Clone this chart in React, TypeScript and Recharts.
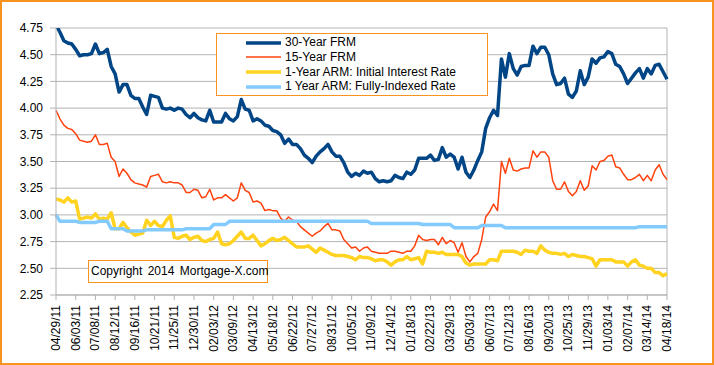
import React from 'react';
import { LineChart, Line, XAxis, YAxis, CartesianGrid, Legend, ReferenceLine } from 'recharts';

const weeks2011 = ['04/29/11','05/06/11','05/13/11','05/20/11','05/27/11','06/03/11','06/10/11','06/17/11','06/24/11','07/01/11','07/08/11','07/15/11','07/22/11','07/29/11','08/05/11','08/12/11','08/19/11','08/26/11','09/02/11','09/09/11','09/16/11','09/23/11','09/30/11','10/07/11','10/14/11','10/21/11','10/28/11','11/04/11','11/11/11','11/18/11','11/25/11','12/02/11','12/09/11','12/16/11','12/23/11','12/30/11'];
const weeks2012 = ['01/06/12','01/13/12','01/20/12','01/27/12','02/03/12','02/10/12','02/17/12','02/24/12','03/02/12','03/09/12','03/16/12','03/23/12','03/30/12','04/06/12','04/13/12','04/20/12','04/27/12','05/04/12','05/11/12','05/18/12','05/25/12','06/01/12','06/08/12','06/15/12','06/22/12','06/29/12','07/06/12','07/13/12','07/20/12','07/27/12','08/03/12','08/10/12','08/17/12','08/24/12','08/31/12','09/07/12','09/14/12','09/21/12','09/28/12','10/05/12','10/12/12','10/19/12','10/26/12','11/02/12','11/09/12','11/16/12','11/23/12','11/30/12','12/07/12','12/14/12','12/21/12','12/28/12'];
const weeks2013 = ['01/04/13','01/11/13','01/18/13','01/25/13','02/01/13','02/08/13','02/15/13','02/22/13','03/01/13','03/08/13','03/15/13','03/22/13','03/29/13','04/05/13','04/12/13','04/19/13','04/26/13','05/03/13','05/10/13','05/17/13','05/24/13','05/31/13','06/07/13','06/14/13','06/21/13','06/28/13','07/05/13','07/12/13','07/19/13','07/26/13','08/02/13','08/09/13','08/16/13','08/23/13','08/30/13','09/06/13','09/13/13','09/20/13','09/27/13','10/04/13','10/11/13','10/18/13','10/25/13','11/01/13','11/08/13','11/15/13','11/22/13','11/29/13','12/06/13','12/13/13','12/20/13','12/27/13'];
const weeks2014 = ['01/03/14','01/10/14','01/17/14','01/24/14','01/31/14','02/07/14','02/14/14','02/21/14','02/28/14','03/07/14','03/14/14','03/21/14','03/28/14','04/04/14','04/11/14','04/18/14'];

const frm30 = [
  4.78,4.71,4.63,4.61,4.60,4.55,4.49,4.50,4.50,4.51,4.60,4.51,4.52,4.55,4.39,4.32,4.15,4.22,4.22,4.12,4.09,4.09,4.01,3.94,4.12,4.11,4.10,4.00,3.99,4.00,3.98,4.00,3.99,3.94,3.91,3.95,
  3.91,3.89,3.88,3.98,3.87,3.87,3.87,3.95,3.90,3.88,3.92,4.08,3.99,3.98,3.88,3.90,3.88,3.84,3.83,3.79,3.78,3.75,3.67,3.71,3.66,3.66,3.62,3.56,3.53,3.49,3.55,3.59,3.62,3.66,3.59,3.55,3.55,3.49,3.40,3.36,3.39,3.37,3.41,3.39,3.40,3.34,3.31,3.32,3.31,3.32,3.37,3.35,
  3.34,3.40,3.38,3.42,3.53,3.53,3.53,3.56,3.51,3.52,3.63,3.54,3.57,3.54,3.43,3.54,3.40,3.35,3.42,3.51,3.59,3.81,3.91,3.98,3.93,4.46,4.29,4.51,4.37,4.31,4.39,4.40,4.40,4.58,4.51,4.57,4.57,4.50,4.32,4.22,4.23,4.28,4.13,4.10,4.16,4.35,4.22,4.29,4.46,4.42,4.47,4.48,
  4.53,4.51,4.41,4.39,4.32,4.23,4.28,4.33,4.37,4.28,4.37,4.32,4.40,4.41,4.34,4.27,
];
const frm15 = [
  3.98,3.90,3.84,3.81,3.80,3.76,3.70,3.69,3.68,3.69,3.75,3.66,3.66,3.67,3.54,3.50,3.36,3.43,3.39,3.33,3.30,3.29,3.28,3.26,3.36,3.37,3.38,3.31,3.30,3.31,3.30,3.30,3.28,3.21,3.21,3.24,
  3.23,3.16,3.17,3.24,3.14,3.16,3.16,3.19,3.16,3.13,3.16,3.30,3.23,3.21,3.12,3.13,3.11,3.04,3.05,3.04,3.04,2.97,2.94,2.98,2.95,2.94,2.89,2.86,2.83,2.80,2.83,2.85,2.89,2.92,2.86,2.86,2.85,2.77,2.73,2.69,2.70,2.66,2.69,2.70,2.66,2.65,2.64,2.64,2.64,2.66,2.66,2.65,
  2.64,2.66,2.66,2.71,2.81,2.77,2.76,2.77,2.77,2.72,2.79,2.73,2.76,2.74,2.65,2.74,2.61,2.56,2.61,2.64,2.77,2.98,3.03,3.10,3.04,3.50,3.39,3.53,3.42,3.41,3.43,3.44,3.44,3.60,3.54,3.59,3.59,3.54,3.32,3.24,3.24,3.31,3.22,3.18,3.22,3.32,3.23,3.27,3.46,3.42,3.50,3.51,
  3.55,3.56,3.45,3.44,3.38,3.33,3.33,3.35,3.38,3.32,3.37,3.32,3.42,3.47,3.38,3.33,
];
const armInitial = [
  3.15,3.14,3.12,3.16,3.12,3.13,2.96,2.97,2.98,2.97,3.01,2.96,2.97,2.96,3.02,2.87,2.87,2.93,2.88,2.84,2.81,2.82,2.83,2.95,2.90,2.94,2.90,2.89,2.95,2.99,2.79,2.78,2.80,2.81,2.77,2.79,
  2.80,2.76,2.75,2.77,2.78,2.84,2.73,2.72,2.73,2.76,2.80,2.84,2.78,2.78,2.81,2.76,2.71,2.73,2.76,2.78,2.76,2.77,2.79,2.76,2.73,2.70,2.70,2.70,2.71,2.68,2.65,2.69,2.67,2.65,2.63,2.62,2.62,2.62,2.61,2.60,2.58,2.61,2.60,2.60,2.59,2.57,2.58,2.58,2.56,2.53,2.56,2.58,
  2.58,2.61,2.58,2.59,2.60,2.54,2.66,2.65,2.65,2.64,2.65,2.63,2.63,2.63,2.63,2.61,2.55,2.53,2.54,2.54,2.54,2.54,2.58,2.58,2.57,2.66,2.66,2.66,2.66,2.65,2.63,2.67,2.66,2.66,2.64,2.71,2.67,2.65,2.64,2.64,2.63,2.64,2.61,2.63,2.62,2.61,2.61,2.60,2.59,2.52,2.58,2.58,
  2.58,2.58,2.56,2.56,2.56,2.52,2.56,2.58,2.53,2.52,2.50,2.50,2.46,2.46,2.43,2.45,
];
const armIndexed = [
  3.00,2.94,2.94,2.94,2.94,2.94,2.93,2.93,2.93,2.93,2.93,2.94,2.94,2.94,2.87,2.87,2.87,2.87,2.85,2.85,2.85,2.85,2.85,2.86,2.86,2.86,2.86,2.86,2.86,2.86,2.86,2.86,2.86,2.87,2.87,2.87,
  2.87,2.87,2.87,2.87,2.91,2.91,2.91,2.91,2.94,2.94,2.94,2.94,2.94,2.94,2.94,2.94,2.94,2.94,2.94,2.94,2.94,2.94,2.94,2.94,2.94,2.94,2.94,2.94,2.94,2.94,2.94,2.94,2.94,2.94,2.94,2.94,2.94,2.94,2.94,2.94,2.94,2.94,2.94,2.94,2.92,2.92,2.92,2.92,2.92,2.92,2.92,2.92,
  2.92,2.92,2.92,2.92,2.92,2.91,2.91,2.91,2.91,2.91,2.91,2.91,2.91,2.88,2.88,2.88,2.88,2.88,2.88,2.88,2.90,2.90,2.90,2.90,2.90,2.90,2.88,2.88,2.88,2.88,2.88,2.88,2.88,2.88,2.88,2.88,2.88,2.88,2.88,2.88,2.88,2.88,2.88,2.88,2.88,2.88,2.88,2.88,2.88,2.88,2.88,2.88,
  2.88,2.88,2.88,2.88,2.88,2.88,2.88,2.88,2.89,2.89,2.89,2.89,2.89,2.89,2.89,2.89,
];

const seriesNames = ['30-Year FRM', '15-Year FRM', '1-Year ARM: Initial Interest Rate', '1 Year ARM: Fully-Indexed Rate'];
const seriesKeys = ['frm30', 'frm15', 'armInitial', 'armIndexed'];
const seriesColors = ['#004586', '#ff420e', '#ffd320', '#83caff'];
const seriesWidths = [3.5, 1.5, 3.5, 3.5];
const yTicks = [2.25, 2.5, 2.75, 3.0, 3.25, 3.5, 3.75, 4.0, 4.25, 4.5, 4.75];
const copyrightText = 'Copyright 2014 Mortgage-X.com';

const weeks = [...weeks2011, ...weeks2012, ...weeks2013, ...weeks2014];
const data = weeks.map((date, i) => ({
  date,
  frm30: frm30[i],
  frm15: frm15[i],
  armInitial: armInitial[i],
  armIndexed: armIndexed[i],
}));

const FONT = '"Liberation Sans", Arial, Helvetica, sans-serif';
const ORANGE = '#F7931E';
const GRID = '#b3b3b3';

const XTick = (props: any) => {
  const { x, y, payload } = props;
  return (
    <text
      x={x}
      y={y}
      transform={`rotate(-90, ${x}, ${y})`}
      textAnchor="end"
      dominantBaseline="central"
      fontSize={12}
      fontFamily={FONT}
      fill="#000"
    >
      {payload.value}
    </text>
  );
};

const LegendBox = () => (
  <div
    style={{
      width: 272,
      height: 63,
      boxSizing: 'border-box',
      border: `1px solid ${ORANGE}`,
      background: '#fff',
      position: 'relative',
      fontFamily: FONT,
    }}
  >
    {seriesNames.map((name, i) => (
      <div
        key={name}
        style={{
          position: 'absolute',
          left: 29,
          top: 1 + i * 14.8,
          height: 15,
          display: 'flex',
          alignItems: 'center',
          whiteSpace: 'nowrap',
        }}
      >
        <svg width={36} height={6} style={{ display: 'block' }}>
          <line x1={0} y1={3} x2={35} y2={3} stroke={seriesColors[i]} strokeWidth={seriesWidths[i]} />
        </svg>
        <span style={{ marginLeft: 3, fontSize: 12, color: '#000', lineHeight: '15px' }}>{name}</span>
      </div>
    ))}
  </div>
);

export default function App() {
  return (
    <div style={{ position: 'absolute', left: 0, top: 0, width: 714, height: 365, background: '#fff', fontFamily: FONT }}>
      <LineChart
        width={714}
        height={365}
        data={data}
        margin={{ top: 28, right: 47, bottom: 10, left: 0 }}
        style={{ fontFamily: FONT }}
      >
        <CartesianGrid horizontal vertical={false} stroke={GRID} strokeDasharray="" />
        <XAxis
          dataKey="date"
          interval={4}
          height={60}
          tick={<XTick />}
          tickSize={5}
          tickMargin={5}
          axisLine={{ stroke: GRID }}
          tickLine={{ stroke: GRID }}
        />
        <YAxis
          domain={[2.25, 4.75]}
          ticks={yTicks}
          allowDataOverflow
          width={56}
          tickSize={6}
          tickMargin={7}
          tickFormatter={(v: number) => v.toFixed(2)}
          tick={{ fontSize: 12, fill: '#000', fontFamily: FONT }}
          axisLine={{ stroke: GRID }}
          tickLine={{ stroke: GRID }}
        />
        <ReferenceLine x={weeks[weeks.length - 1]} stroke={GRID} />
        {seriesKeys.map((k, i) => (
          <Line
            key={k}
            type="linear"
            dataKey={k}
            name={seriesNames[i]}
            stroke={seriesColors[i]}
            strokeWidth={seriesWidths[i]}
            strokeLinejoin="round"
            dot={false}
            activeDot={false}
            isAnimationActive={false}
          />
        ))}
        <Legend
          layout="vertical"
          align="center"
          verticalAlign="middle"
          content={<LegendBox />}
          wrapperStyle={{ position: 'absolute', left: 216, top: 33, width: 272, height: 63, margin: 0 }}
        />
      </LineChart>
      <div
        style={{
          position: 'absolute',
          left: 88,
          top: 260,
          width: 180,
          height: 23,
          boxSizing: 'border-box',
          border: `1px solid ${ORANGE}`,
          background: '#fff',
          fontSize: 12,
          lineHeight: '21px',
          paddingLeft: 2,
          wordSpacing: 2,
          whiteSpace: 'pre',
          color: '#000',
        }}
      >
        {copyrightText}
      </div>
      <div
        style={{
          position: 'absolute',
          left: 0,
          top: 0,
          width: 714,
          height: 365,
          boxSizing: 'border-box',
          border: `2px solid ${ORANGE}`,
          pointerEvents: 'none',
        }}
      />
    </div>
  );
}
